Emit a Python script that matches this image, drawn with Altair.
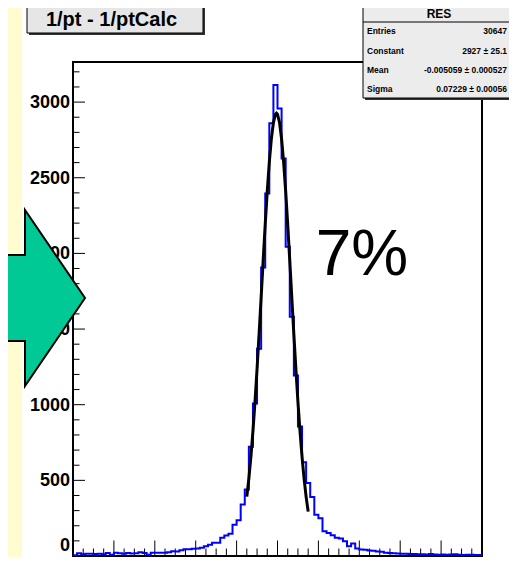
import altair as alt
import pandas as pd

FONT = "Liberation Sans"

# ---------------- data ----------------
x_min, x_max = -1.0, 1.0
bin_width = 0.02
counts = [5, 18, 12, 15, 15, 13, 15, 12, 20, 8,
          22, 18, 15, 20, 16, 18, 24, 20, 8, 22,
          22, 22, 22, 25, 32, 30, 38, 45, 45, 48,
          50, 55, 65, 75, 88, 88, 121, 136, 147, 207,
          236, 340, 439, 722, 1008, 1369, 1907, 2396, 2860, 3113,
          2957, 2627, 2044, 1582, 1193, 856, 620, 482, 390, 272,
          249, 163, 152, 137, 121, 115, 97, 64, 82, 49,
          43, 42, 36, 35, 30, 28, 22, 20, 18, 16,
          15, 15, 14, 13, 12, 12, 10, 14, 10, 9,
          10, 8, 10, 12, 8, 7, 9, 8, 6, 6]

fit_x = [-0.15, -0.14, -0.13, -0.12, -0.11, -0.10, -0.09, -0.08, -0.07, -0.06,
         -0.05, -0.04, -0.03, -0.02, -0.01, -0.005, 0.00, 0.01, 0.02, 0.03,
         0.04, 0.05, 0.06, 0.07, 0.08, 0.09, 0.10, 0.11, 0.12, 0.13, 0.14, 0.15]
fit_y = [392, 513, 657, 827, 1021, 1236, 1468, 1710, 1955, 2193,
         2413, 2604, 2758, 2865, 2920, 2927, 2920, 2864, 2756, 2602,
         2410, 2190, 1952, 1707, 1465, 1233, 1018, 825, 655, 511, 391, 293]

y_top = 3265
y_major = [0, 500, 1000, 1500, 2000, 2500, 3000]
y_minor = [v for v in range(0, 3201, 100) if v % 500 != 0]
x_major = [-1.0, -0.8, -0.6, -0.4, -0.2, 0.0, 0.2, 0.4, 0.6, 0.8, 1.0]
x_minor = [round(-1 + 0.05 * i, 3) for i in range(41) if i % 4 != 0]

hist_title = "1/pt - 1/ptCalc"
stats_title = "RES"
stats_names = ["Entries", "Constant", "Mean", "Sigma"]
stats_values = ["30647", "2927 \u00b1 25.1", "-0.005059 \u00b1 0.000527", "0.07229 \u00b1 0.00056"]
annotation = "7%"

# ---------------- build ----------------
W, H = 409, 494
edges = [round(x_min + i * bin_width, 4) for i in range(len(counts) + 1)]
hist_df = pd.DataFrame({"x": edges, "n": counts + [counts[-1]]})
fit_df = pd.DataFrame({"x": fit_x, "y": fit_y})

xs = alt.Scale(domain=[x_min, x_max], nice=False, zero=False)
ys = alt.Scale(domain=[0, y_top], nice=False, zero=False)
one = pd.DataFrame({"k": [0]})


def box(x1, x2, y1, y2, **kw):
    return alt.Chart(one).mark_rect(**kw).encode(
        x=alt.value(x1), x2=alt.value(x2), y=alt.value(y1), y2=alt.value(y2))


def seg(x1, x2, y1, y2, **kw):
    return alt.Chart(one).mark_rule(**kw).encode(
        x=alt.value(x1), x2=alt.value(x2), y=alt.value(y1), y2=alt.value(y2))


def label(txt, x, y, **kw):
    return alt.Chart(one).mark_text(text=txt, font=FONT, **kw).encode(
        x=alt.value(x), y=alt.value(y))


layers = []
# yellow side panel
layers.append(box(-73, -51, -62, 500, color="#FFFDD0"))

# y labels (the lowest one nudged up so that it stays inside the picture)
ylab_df = pd.DataFrame({"v": y_major, "t": [str(v) for v in y_major]})
ylab_style = dict(align="right", baseline="middle", font=FONT, fontSize=18,
                  fontWeight="bold", color="black")
layers.append(alt.Chart(ylab_df[ylab_df.v > 0]).mark_text(dy=1, **ylab_style).encode(
    x=alt.value(-3), y=alt.Y("v:Q", scale=ys, axis=None), text="t:N"))
layers.append(alt.Chart(ylab_df[ylab_df.v == 0]).mark_text(dy=-10, **ylab_style).encode(
    x=alt.value(-3), y=alt.Y("v:Q", scale=ys, axis=None), text="t:N"))

# ticks
layers.append(alt.Chart(pd.DataFrame({"v": y_major})).mark_rule(color="black", strokeWidth=1).encode(
    y=alt.Y("v:Q", scale=ys, axis=None), x=alt.value(0), x2=alt.value(12)))
layers.append(alt.Chart(pd.DataFrame({"v": y_minor})).mark_rule(color="black", strokeWidth=1).encode(
    y=alt.Y("v:Q", scale=ys, axis=None), x=alt.value(0), x2=alt.value(6.5)))
layers.append(alt.Chart(pd.DataFrame({"v": x_major})).mark_rule(color="black", strokeWidth=1).encode(
    x=alt.X("v:Q", scale=xs, axis=None), y=alt.value(H), y2=alt.value(H - 15.5)))
layers.append(alt.Chart(pd.DataFrame({"v": x_minor})).mark_rule(color="black", strokeWidth=1).encode(
    x=alt.X("v:Q", scale=xs, axis=None), y=alt.value(H), y2=alt.value(H - 7.5)))

# histogram
layers.append(alt.Chart(hist_df).mark_line(
    interpolate="step-after", color="#0000ff", strokeWidth=2).encode(
    x=alt.X("x:Q", scale=xs, axis=None), y=alt.Y("n:Q", scale=ys, axis=None)))
# fit
layers.append(alt.Chart(fit_df).mark_line(color="black", strokeWidth=3).encode(
    x=alt.X("x:Q", scale=xs, axis=None), y=alt.Y("y:Q", scale=ys, axis=None)))

# annotation
layers.append(label(annotation, 289, 213, fontSize=64, align="center", baseline="alphabetic", color="black"))

# arrow (custom symbol)
arrow_path = ("M-0.483,-0.489 L-0.199,-0.489 L-0.199,-1 L0.483,0 L-0.199,1 "
              "L-0.199,0.489 L-0.483,0.489 Z")
layers.append(alt.Chart(one).mark_point(
    shape=arrow_path, size=176 * 176, filled=True, fill="#00C996", stroke="black",
    strokeWidth=2, opacity=1, strokeJoin="miter").encode(
    x=alt.value(-30.5), y=alt.value(236)))

# title box
layers.append(box(-44, 132, -57, -27, color="#333333"))
layers.append(box(-46, 130, -60, -29, fill="#e6e6e6", stroke="black", strokeWidth=1))
layers.append(label(hist_title, 38.5, -36, fontSize=20, fontWeight="bold", align="center",
                    baseline="alphabetic", color="black"))

# stats box
layers.append(box(292, 452, -60, 38, color="#333333"))
layers.append(box(290, 450, -62, 36, fill="#ececec", stroke="black", strokeWidth=1))
layers.append(seg(290, 450, -40, -40, color="black", strokeWidth=1))
layers.append(label(stats_title, 366, -44.5, fontSize=12, fontWeight="bold", align="center",
                    baseline="alphabetic", color="black"))
for i, (nm, val) in enumerate(zip(stats_names, stats_values)):
    yb = -27.7 + 19.3 * i
    layers.append(label(nm, 294, yb, fontSize=8.5, fontWeight="bold", align="left",
                        baseline="alphabetic", color="black"))
    layers.append(label(val, 434, yb, fontSize=8.5, fontWeight="bold", align="right",
                        baseline="alphabetic", color="black"))

chart = alt.layer(*layers).properties(
    width=W, height=H,
    autosize=alt.AutoSizeParams(type="none"),
    padding={"left": 65, "top": 54, "right": 27, "bottom": 1},
    background="white",
).configure_view(stroke="black", strokeWidth=2)

chart.save("out.html", embed_options={"renderer": "svg", "actions": False})
